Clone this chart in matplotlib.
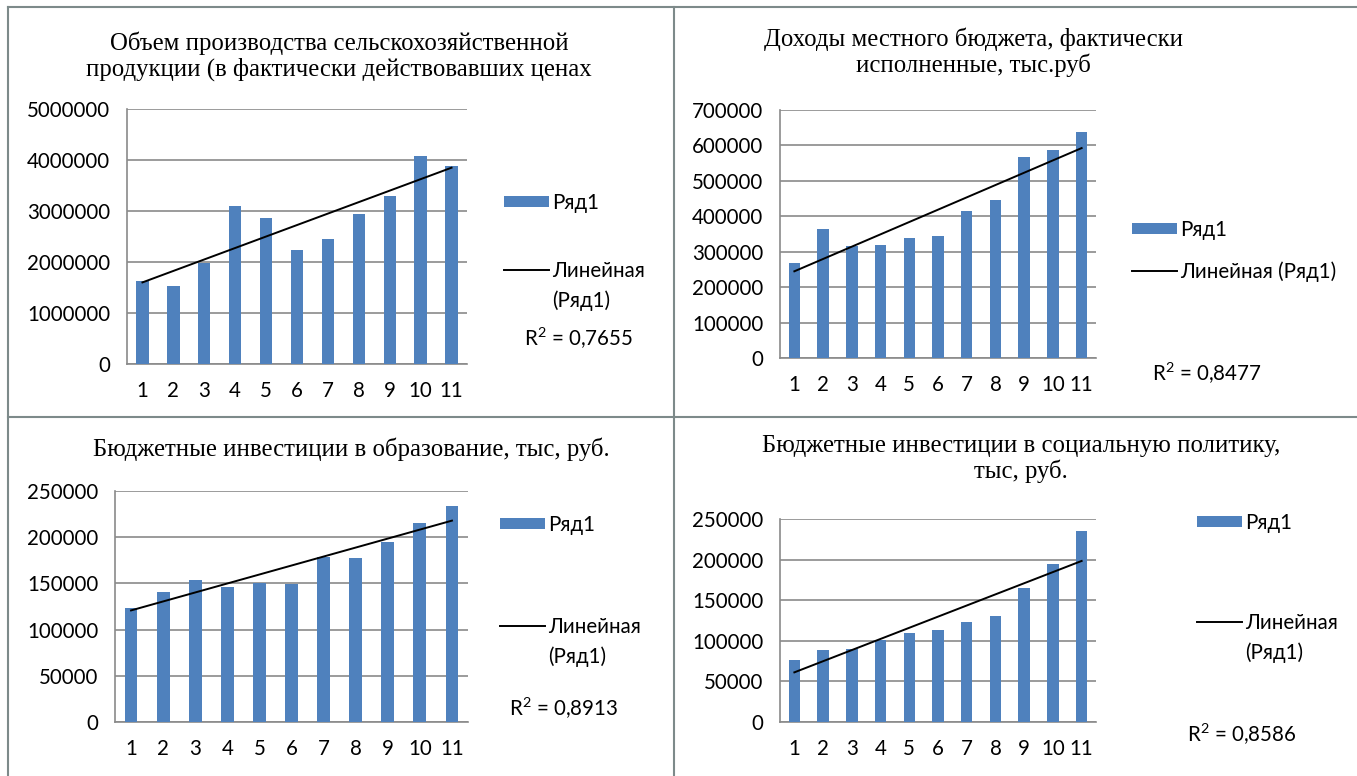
import numpy as np
import matplotlib
matplotlib.use('Agg')
import matplotlib.pyplot as plt
from matplotlib.lines import Line2D
from matplotlib.ticker import FuncFormatter

W, H = 1357, 776

years = list(range(1, 12))

agro = [1620000, 1530000, 1990000, 3090000, 2860000, 2230000,
        2450000, 2940000, 3290000, 4080000, 3890000]
income = [268000, 363000, 317000, 320000, 340000, 343000,
          415000, 446000, 568000, 587000, 638000]
education = [123000, 141000, 153300, 145700, 150000, 149500,
             178900, 177100, 195200, 215000, 234100]
social = [76900, 88800, 89600, 101600, 109800, 113100,
          122900, 130300, 164500, 194900, 234800]

titles = ['Объем производства сельскохозяйственной\nпродукции (в фактически действовавших ценах',
          'Доходы местного бюджета, фактически\nисполненные, тыс.руб',
          'Бюджетные инвестиции в образование, тыс, руб.',
          'Бюджетные инвестиции в социальную политику,\nтыс, руб.']
r2_values = ['0,7655', '0,8477', '0,8913', '0,8586']
series_name = 'Ряд1'
trend_name = 'Линейная'

BLUE = '#4f81bd'
GRID = '#8a8a8a'
SANS = ['Lato', 'Open Sans', 'DejaVu Sans']
SERIF = ['Liberation Serif', 'DejaVu Serif']
FS = 14.8

plt.rcParams['mathtext.fontset'] = 'custom'
plt.rcParams['mathtext.rm'] = 'Lato'
plt.rcParams['mathtext.default'] = 'regular'


def fx(px):
    return px / W


def fy(py):
    return 1 - py / H


fig = plt.figure(figsize=(W / 100, H / 100), dpi=100)

# panel layout in pixels
panels = [
    dict(data=agro, ymax=5000000, step=1000000, box=(127, 467, 109, 364),
         title_xy=(339, 56), leg1=(504, 203), leg2=(504, 272), two_line=True,
         r2=(524, 338)),
    dict(data=income, ymax=700000, step=100000, box=(780, 1096, 110, 358),
         title_xy=(973, 52), leg1=(1132, 230), leg2=(1132, 272), two_line=False,
         r2=(1152, 373)),
    dict(data=education, ymax=250000, step=50000, box=(115, 468, 491, 722),
         title_xy=(351, 449), leg1=(500, 525), leg2=(500, 628), two_line=True,
         r2=(509, 708)),
    dict(data=social, ymax=250000, step=50000, box=(780, 1096, 519, 722),
         title_xy=(1021, 459), leg1=(1197, 523), leg2=(1197, 624), two_line=True,
         r2=(1187, 734)),
]

for p, title, r2 in zip(panels, titles, r2_values):
    l, r, t, b = p['box']
    ax = fig.add_axes([fx(l), fy(b), fx(r - l), (b - t) / H])
    x = np.array(years)
    y = np.array(p['data'])
    bars = ax.bar(x, y, width=0.4, color=BLUE, zorder=3)
    k, c = np.polyfit(x, y, 1)
    trend, = ax.plot([x[0], x[-1]], [k * x[0] + c, k * x[-1] + c],
                     color='black', lw=1.4, zorder=4)
    ax.set_xlim(0.5, 11.5)
    ax.set_ylim(0, p['ymax'])
    ax.set_yticks(np.arange(0, p['ymax'] + 1, p['step']))
    ax.yaxis.set_major_formatter(FuncFormatter(lambda v, pos: '%d' % v))
    ax.set_xticks(x)
    ax.yaxis.grid(True, color=GRID, lw=1.2)
    ax.set_axisbelow(True)
    for s in ['top', 'right']:
        ax.spines[s].set_visible(False)
    for s in ['left', 'bottom']:
        ax.spines[s].set_color(GRID)
        ax.spines[s].set_linewidth(1.2)
    ax.tick_params(length=0, pad=12, labelsize=FS, colors='black')
    for lab in ax.get_xticklabels() + ax.get_yticklabels():
        lab.set_family(SANS)

    fig.text(fx(p['title_xy'][0]), fy(p['title_xy'][1]), title,
             ha='center', va='center', family=SERIF, fontsize=17.8,
             linespacing=1.15)

    leg1 = ax.legend([bars], [series_name], loc='center left',
                     bbox_to_anchor=(fx(p['leg1'][0]), fy(p['leg1'][1])),
                     bbox_transform=fig.transFigure, frameon=False,
                     borderpad=0, borderaxespad=0, handlelength=2.2,
                     handleheight=0.45, handletextpad=0.15,
                     prop={'family': SANS, 'size': FS})
    ax.add_artist(leg1)
    if p['two_line']:
        handles = [trend, Line2D([], [], color='none')]
        labels = [trend_name, '(' + series_name + ')']
        anchor_y = p['leg2'][1] + 14
    else:
        handles = [trend]
        labels = [trend_name + ' (' + series_name + ')']
        anchor_y = p['leg2'][1]
    ax.legend(handles, labels, loc='center left',
              bbox_to_anchor=(fx(p['leg2'][0]), fy(anchor_y)),
              bbox_transform=fig.transFigure, frameon=False,
              borderpad=0, borderaxespad=0, handlelength=2.2,
              handletextpad=0.15, labelspacing=0.45,
              prop={'family': SANS, 'size': FS})

    fig.text(fx(p['r2'][0]), fy(p['r2'][1]), 'R$^2$ = ' + r2,
             ha='left', va='center', family=SANS, fontsize=FS)

# panel frame lines
frame = '#7d8a8a'
fig.add_artist(Line2D([fx(8), fx(8)], [0, fy(7)], color=frame, lw=1.5))
fig.add_artist(Line2D([fx(8), 1], [fy(7), fy(7)], color=frame, lw=1.5))
fig.add_artist(Line2D([fx(674), fx(674)], [0, fy(7)], color=frame, lw=1.5))
fig.add_artist(Line2D([fx(8), 1], [fy(417), fy(417)], color=frame, lw=1.5))

fig.savefig('out.png', dpi=100)
